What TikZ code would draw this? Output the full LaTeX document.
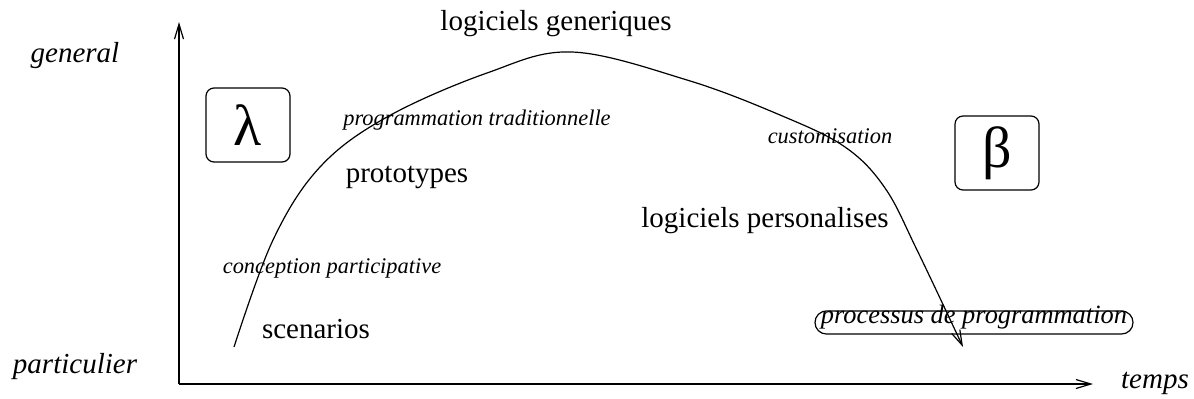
\documentclass[tikz,border=0pt]{standalone}
\usepackage{fontspec}
\setmainfont{Liberation Serif}
\usetikzlibrary{arrows.meta}

\begin{document}
\begin{tikzpicture}[
    x=0.5pt, y=-0.5pt, line width=0.6pt,
    % Large labels
    lab/.style={anchor=base, inner sep=0pt, font=\fontsize{14.5}{17}\selectfont},
    % Small italic labels along the curve
    etape/.style={anchor=base, inner sep=0pt, font=\fontsize{11.2}{13}\selectfont\itshape},
    % Greek letter boxes
    boite/.style={
        draw, rounded corners=4pt, inner sep=0pt,
        minimum width=42pt, minimum height=37pt,
        font=\fontsize{29}{32}\selectfont
    },
    % Rounded process box
    proc/.style={
        draw, rounded corners=5.7pt, anchor=base, inner xsep=0pt, inner ysep=0pt,
        minimum width=159pt, text height=6pt, text depth=5.5pt,
        font=\fontsize{13.2}{15}\selectfont\itshape
    },
    fleche/.style={-{Straight Barb[length=7.5pt,width=4.5pt]}}
]
\useasboundingbox (0,0) rectangle (1194,398);

% ---- AXES ----
\coordinate (origine) at (179,384);
\coordinate (yhaut)   at (179,22);
\coordinate (xfin)    at (1093,384);
\draw[fleche] (origine) -- (yhaut);
\draw[fleche] (origine) -- (xfin);

\node[lab, font=\fontsize{14.5}{17}\selectfont\itshape] (general) at (75,62)   {general};
\node[lab, font=\fontsize{14.5}{17}\selectfont\itshape] (partic)  at (75,373)  {particulier};
\node[lab, font=\fontsize{14.5}{17}\selectfont\itshape] (temps)   at (1155,388) {temps};

% ---- GREEK BOXES ----
\node[boite] (lambda) at (248,125) {λ};
\node[boite] (beta)   at (997,153) {β};

% ---- CURVE ----
\draw[fleche] plot[smooth, tension=0.6] coordinates {
    (234,347) (273,240) (320,167) (387,117) (487,73) (572,52)
    (687,80) (780,115) (845,147) (885,188) (917,250) (963,347)};

% ---- LABELS ----
\node[lab]   (gener)   at (556,30)  {logiciels generiques};
\node[etape] (tradi)   at (477,125) {programmation traditionnelle};
\node[lab]   (proto)   at (407,182) {prototypes};
\node[etape] (custom)  at (830,143) {customisation};
\node[lab]   (perso)   at (765,227) {logiciels personalises};
\node[etape] (concep)  at (332,273) {conception participative};
\node[lab]   (scen)    at (316,338) {scenarios};

\node[proc] (processus) at (974,323) {processus de programmation};

\end{tikzpicture}
\end{document}
